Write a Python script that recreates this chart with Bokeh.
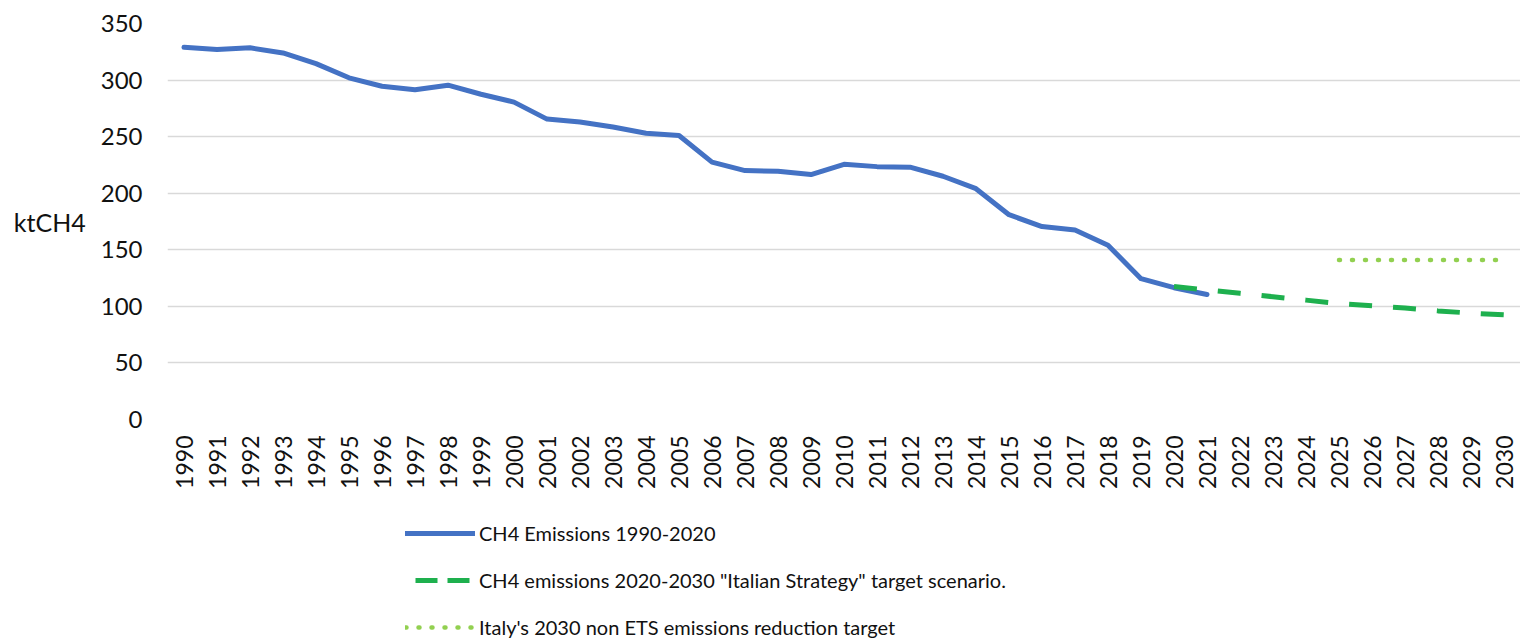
import math
from bokeh.plotting import figure
from bokeh.layouts import column
from bokeh.models import FixedTicker, Legend, LegendItem, Range1d
from bokeh.embed import file_html
from bokeh.resources import INLINE

# ---- data ----
all_years = list(range(1990, 2031))
hist_years = list(range(1990, 2022))
hist_values = [329, 327, 328.5, 324, 314.5, 302, 294.5, 291.5, 295.5, 287.5,
               280.5, 265.5, 263, 258.5, 253, 251, 227.5, 220, 219.5, 216.5,
               225.5, 223.5, 223, 215, 204, 181, 170.5, 167.5, 154, 124.5,
               116.5, 110.5]
scen_years = list(range(2020, 2031))
scen_values = [117.5, 114.5, 111.5, 108.5, 105.5, 102.5, 100.5, 98.5, 96, 94, 92.5]
target_years = list(range(2025, 2031))
target_values = [141, 141, 141, 141, 141, 141]
y_ticks = [0, 50, 100, 150, 200, 250, 300, 350]

label_hist = "CH4 Emissions 1990-2020"
label_scen = 'CH4 emissions 2020-2030 "Italian Strategy" target scenario.'
label_target = "Italy's 2030 non ETS emissions reduction target"

FONT = "Lato"
TXT = "#111111"
C_HIST = "#4472C4"
C_SCEN = "#1EB04E"
C_TARGET = "#92D050"

STY_HIST = dict(line_color=C_HIST, line_width=5, line_join="round", line_cap="round")
STY_SCEN = dict(line_color=C_SCEN, line_width=5, line_dash="23 21")
STY_TARGET = dict(line_color=C_TARGET, line_width=4.5, line_dash="1 12", line_cap="round")

# ---- main chart ----
p = figure(width=1520, height=500, output_backend="svg", toolbar_location=None,
           x_range=Range1d(1989.5, 2030.5), y_range=Range1d(0, 350),
           min_border_left=167, min_border_right=0, min_border_top=23,
           min_border_bottom=81)
p.outline_line_color = None

p.xgrid.visible = False
p.ygrid.ticker = FixedTicker(ticks=y_ticks)
p.ygrid.grid_line_color = "#D9D9D9"
p.ygrid.grid_line_width = 1.3

p.yaxis.ticker = FixedTicker(ticks=y_ticks)
p.yaxis.axis_line_color = None
p.yaxis.major_tick_line_color = None
p.yaxis.minor_tick_line_color = None
p.yaxis.major_label_standoff = 19
p.yaxis.major_label_text_font = FONT
p.yaxis.major_label_text_font_size = "24px"
p.yaxis.major_label_text_color = TXT
p.yaxis.axis_label = "ktCH4"
p.yaxis.axis_label_orientation = "horizontal"
p.yaxis.axis_label_text_font = FONT
p.yaxis.axis_label_text_font_size = "25px"
p.yaxis.axis_label_text_font_style = "normal"
p.yaxis.axis_label_text_color = TXT
p.yaxis.axis_label_standoff = 12

p.xaxis.ticker = FixedTicker(ticks=all_years)
p.xaxis.axis_line_color = None
p.xaxis.major_tick_line_color = None
p.xaxis.minor_tick_line_color = None
p.xaxis.major_label_orientation = math.pi / 2
p.xaxis.major_label_standoff = 10
p.xaxis.major_label_text_font = FONT
p.xaxis.major_label_text_font_size = "23px"
p.xaxis.major_label_text_color = TXT

p.line(hist_years, hist_values, **STY_HIST)
p.line(scen_years, scen_values, **STY_SCEN)
p.line(target_years, target_values, **STY_TARGET)

# ---- legend strip (proxy lines lie outside its visible range) ----
q = figure(width=1520, height=142, output_backend="svg", toolbar_location=None,
           x_range=Range1d(0, 1), y_range=Range1d(0, 1),
           min_border_left=0, min_border_right=0, min_border_top=0, min_border_bottom=0)
q.axis.visible = False
q.grid.visible = False
q.outline_line_color = None
l_hist = q.line([-5, -4], [-5, -4], **STY_HIST)
l_scen = q.line([-5, -4], [-5, -4], line_color=C_SCEN, line_width=5,
                line_dash="22 10", line_dash_offset=22)
l_target = q.line([-5, -4], [-5, -4], **STY_TARGET)

legend = Legend(items=[LegendItem(label=label_hist, renderers=[l_hist]),
                       LegendItem(label=label_scen, renderers=[l_scen]),
                       LegendItem(label=label_target, renderers=[l_target])],
                location=(238, 0), orientation="vertical",
                glyph_width=70, glyph_height=30, label_height=30,
                spacing=17, padding=0, margin=0, label_standoff=4,
                label_text_font=FONT, label_text_font_size="20px",
                label_text_color=TXT, border_line_color=None,
                background_fill_alpha=0)
q.add_layout(legend)

layout = column(p, q, spacing=0)
open("out.html", "w").write(file_html(layout, INLINE))
